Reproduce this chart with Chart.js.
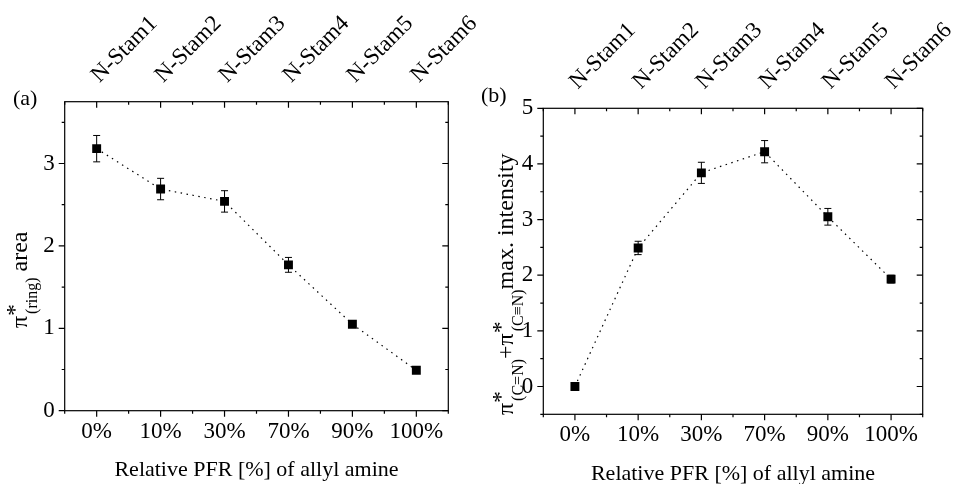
<!DOCTYPE html>
<html>
<head>
<meta charset="utf-8">
<script src="https://cdn.jsdelivr.net/npm/chart.js@4.4.1/dist/chart.umd.min.js"></script>
<style>
  body { margin: 0; background: #fff; }
  #wrap { position: relative; width: 956px; height: 484px; overflow: hidden; }
  canvas { position: absolute; top: 0; }
  #areaChart { left: 0; }
  #intensityChart { left: 478px; }
</style>
</head>
<body>
<div id="wrap">
  <canvas id="areaChart" width="520" height="484"></canvas>
  <canvas id="intensityChart" width="478" height="484"></canvas>
</div>
<script>
// data
var flowLabels = ['0%', '10%', '30%', '70%', '90%', '100%'];
var sampleNames = ['N-Stam1', 'N-Stam2', 'N-Stam3', 'N-Stam4', 'N-Stam5', 'N-Stam6'];
var ringArea = [3.18, 2.69, 2.54, 1.77, 1.05, 0.49];
var ringAreaErr = [0.16, 0.13, 0.13, 0.09, 0.02, 0.02];
var cnIntensity = [0.0, 2.49, 3.84, 4.22, 3.05, 1.93];
var cnIntensityErr = [0.0, 0.12, 0.19, 0.20, 0.15, 0.07];
var xTitle = 'Relative PFR [%] of allyl amine';

var FONT = "'Liberation Serif', 'Times New Roman', serif";
Chart.defaults.font.family = FONT;
Chart.defaults.font.size = 23;
Chart.defaults.color = '#000';

function points(vals) {
  return vals.map(function (v, i) { return { x: i, y: v }; });
}

// box around the plot with ticks: outward on bottom/left, inward on top/right
var framePlugin = {
  id: 'frame',
  afterDraw: function (chart) {
    var ctx = chart.ctx, a = chart.chartArea, x = chart.scales.x, y = chart.scales.y;
    var v, p, len;
    ctx.save();
    ctx.strokeStyle = '#000';
    ctx.lineWidth = 1.2;
    ctx.strokeRect(a.left, a.top, a.right - a.left, a.bottom - a.top);
    ctx.beginPath();
    for (v = x.min; v <= x.max; v += 0.5) {
      p = x.getPixelForValue(v);
      len = Number.isInteger(v) ? 6 : 3;
      ctx.moveTo(p, a.bottom); ctx.lineTo(p, a.bottom + len);
      ctx.moveTo(p, a.top); ctx.lineTo(p, a.top + len);
    }
    for (v = y.min; v <= y.max; v += 0.5) {
      p = y.getPixelForValue(v);
      len = Number.isInteger(v) ? 6 : 3;
      ctx.moveTo(a.left, p); ctx.lineTo(a.left - len, p);
      ctx.moveTo(a.right, p); ctx.lineTo(a.right - len, p);
    }
    ctx.stroke();
    ctx.restore();
  }
};

var errorPlugin = {
  id: 'errorBars',
  afterDatasetsDraw: function (chart, args, opts) {
    var ctx = chart.ctx, y = chart.scales.y;
    var meta = chart.getDatasetMeta(0);
    var data = chart.data.datasets[0].data;
    ctx.save();
    ctx.strokeStyle = '#000';
    ctx.lineWidth = 1;
    ctx.beginPath();
    meta.data.forEach(function (pt, i) {
      var e = opts.errors[i];
      if (!e) return;
      var t = y.getPixelForValue(data[i].y + e), b = y.getPixelForValue(data[i].y - e);
      ctx.moveTo(pt.x, t); ctx.lineTo(pt.x, b);
      ctx.moveTo(pt.x - 3.5, t); ctx.lineTo(pt.x + 3.5, t);
      ctx.moveTo(pt.x - 3.5, b); ctx.lineTo(pt.x + 3.5, b);
    });
    ctx.stroke();
    ctx.restore();
  }
};

// rotated y title with sub/superscripts, plus the panel letter
var titlePlugin = {
  id: 'richTitle',
  afterDraw: function (chart, args, opts) {
    var ctx = chart.ctx;
    ctx.save();
    ctx.fillStyle = '#000';
    ctx.textBaseline = 'alphabetic';
    ctx.textAlign = 'left';
    ctx.font = '22px ' + FONT;
    ctx.fillText(opts.letter, opts.letterX, opts.letterY);
    ctx.translate(opts.x, opts.y);
    ctx.rotate(-Math.PI / 2);
    var pos = 0;
    opts.parts.forEach(function (p) {
      if (p.sub !== undefined) {
        ctx.font = '24px ' + FONT;
        var w1 = ctx.measureText(p.sup).width;
        ctx.fillText(p.sup, pos, -5);
        ctx.font = '16px ' + FONT;
        var w2 = ctx.measureText(p.sub).width;
        ctx.fillText(p.sub, pos + 2, 10);
        pos += Math.max(w1, w2 + 2);
      } else {
        ctx.font = '24px ' + FONT;
        ctx.fillText(p.text, pos, 0);
        pos += ctx.measureText(p.text).width;
      }
    });
    ctx.restore();
  }
};

function makeChart(id, vals, errs, yMin, yMax, box, title) {
  return new Chart(document.getElementById(id), {
    type: 'line',
    data: {
      datasets: [{
        data: points(vals),
        borderColor: '#000',
        borderWidth: 1.2,
        borderDash: [1.5, 4.5],
        tension: 0,
        pointStyle: 'rect',
        pointRadius: 6.3,
        pointBorderWidth: 0,
        pointBackgroundColor: '#000'
      }]
    },
    options: {
      responsive: false,
      animation: false,
      events: [],
      layout: { autoPadding: false, padding: { left: 0, top: 0, bottom: 0, right: box.padRight } },
      plugins: {
        legend: { display: false },
        tooltip: { enabled: false },
        errorBars: { errors: errs },
        richTitle: title
      },
      scales: {
        x: {
          type: 'linear', position: 'bottom', min: -0.5, max: 5.5,
          grid: { display: false, drawTicks: false }, border: { display: false },
          ticks: {
            stepSize: 0.5, autoSkip: false, maxRotation: 0, padding: 7,
            callback: function (v) { return Number.isInteger(v) ? flowLabels[v] : ''; }
          },
          title: { display: true, text: xTitle, padding: 0, font: { size: 22, lineHeight: box.titleLH } },
          afterFit: function (s) { s.height = box.bottomH; s.paddingLeft = 0; s.paddingRight = 0; }
        },
        x2: {
          type: 'linear', position: 'top', min: -0.5, max: 5.5,
          grid: { display: false, drawTicks: false }, border: { display: false },
          ticks: {
            stepSize: 0.5, autoSkip: false, minRotation: 45, maxRotation: 45,
            padding: 13, labelOffset: 18,
            callback: function (v) { return Number.isInteger(v) ? sampleNames[v] : ''; }
          },
          afterFit: function (s) { s.height = box.topH; s.paddingLeft = 0; s.paddingRight = 0; }
        },
        y: {
          type: 'linear', position: 'left', min: yMin, max: yMax,
          grid: { display: false, drawTicks: false }, border: { display: false },
          ticks: {
            stepSize: 0.5, autoSkip: false, padding: 10,
            callback: function (v) { return Number.isInteger(v) ? String(v) : ''; }
          },
          afterFit: function (s) { s.width = box.leftW; s.paddingTop = 0; s.paddingBottom = 0; }
        }
      }
    },
    plugins: [framePlugin, errorPlugin, titlePlugin]
  });
}

makeChart('areaChart', ringArea, ringAreaErr, 0, 3.75,
  { padRight: 71.7, bottomH: 73.3, topH: 101.7, leftW: 64.7, titleLH: 1.23 },
  {
    letter: '(a)', letterX: 13, letterY: 105, x: 27, y: 328,
    parts: [{ text: 'π' }, { sup: '*', sub: '(ring)' }, { text: ' area' }]
  });

makeChart('intensityChart', cnIntensity, cnIntensityErr, -0.5, 5,
  { padRight: 33.3, bottomH: 69.7, topH: 108.3, leftW: 65.3, titleLH: 0.85 },
  {
    letter: '(b)', letterX: 3, letterY: 102, x: 35, y: 415,
    parts: [{ text: 'π' }, { sup: '*', sub: '(C=N)' }, { text: '+' }, { text: 'π' },
            { sup: '*', sub: '(C≡N)' }, { text: 'max. intensity' }]
  });
</script>
</body>
</html>
